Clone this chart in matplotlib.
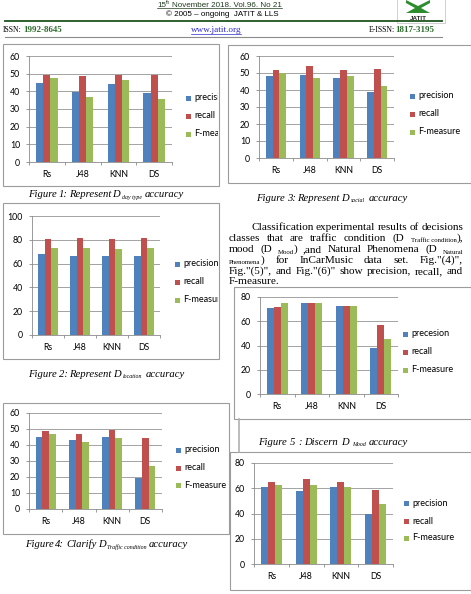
import numpy as np
import matplotlib
matplotlib.use('Agg')
import matplotlib.pyplot as plt
import matplotlib.transforms as mtransforms
from matplotlib.patches import Rectangle, Polygon
from matplotlib.lines import Line2D

# ---------------- data ----------------
categories = ['Rs', 'J48', 'KNN', 'DS']
legend_labels = ['precision', 'recall', 'F-measure']
legend_labels_mood = ['precesion', 'recall', 'F-measure']

day_type_precision = [45.0, 39.4, 44.1, 38.8]
day_type_recall = [49.5, 48.8, 49.2, 49.2]
day_type_fmeasure = [47.3, 36.6, 46.3, 35.8]

location_precision = [68.0, 66.0, 66.0, 66.0]
location_recall = [80.3, 81.2, 80.6, 81.2]
location_fmeasure = [73.3, 72.8, 72.5, 72.8]

social_precision = [48.1, 48.7, 47.2, 38.8]
social_recall = [52.0, 54.0, 52.0, 52.2]
social_fmeasure = [49.9, 47.2, 48.1, 42.1]

traffic_precision = [45.0, 43.3, 45.0, 19.6]
traffic_recall = [49.0, 46.7, 49.2, 44.2]
traffic_fmeasure = [47.1, 42.1, 44.6, 27.1]

mood_precision = [71.0, 75.1, 72.4, 37.7]
mood_recall = [71.9, 75.1, 72.7, 56.8]
mood_fmeasure = [75.1, 75.1, 72.4, 45.4]

natural_precision = [61.0, 58.1, 60.7, 39.8]
natural_recall = [64.6, 67.3, 64.6, 58.8]
natural_fmeasure = [62.8, 62.3, 61.2, 47.8]

# ---------------- styling ----------------
W, H = 471, 594
SANS = 'Lato'
SERIF = 'Liberation Serif'
COLORS = ['#4F81BD', '#C0504D', '#9BBB59']
AXC = '#8a8a8a'
FRAMEC = '#9c9c9c'

plt.rcParams['font.family'] = SANS
fig = plt.figure(figsize=(W / 100, H / 100), dpi=100)
fig.patch.set_facecolor('white')
PX = mtransforms.Affine2D().scale(1.0 / W, -1.0 / H).translate(0, 1) + fig.transFigure
renderer = fig.canvas.get_renderer()


def measure(s, **kw):
    t = fig.text(0, 0, s, **kw)
    w = t.get_window_extent(renderer=renderer).width
    t.remove()
    return w


def fit(s, target, **kw):
    return 10.0 * target / measure(s, size=10, **kw)


def draw_runs(x0, ybase, pieces, width=None, center=None, color='black', space=0.25):
    """pieces: (text, kw, n_spaces_before, dy)"""
    ws = [measure(p[0], **p[1]) for p in pieces]
    nsp = sum(p[2] for i, p in enumerate(pieces) if i > 0)
    if width is None:
        gap = space * pieces[0][1]['size'] * 100 / 72
    else:
        gap = (width - sum(ws)) / max(nsp, 1)
    total = sum(ws) + gap * nsp
    if center is not None:
        x0 = center - total / 2
    x = x0
    for i, (p, w) in enumerate(zip(pieces, ws)):
        if i > 0:
            x += gap * p[2]
        kw = dict(p[1])
        kw.setdefault('color', color)
        fig.text(x, ybase + p[3], p[0], transform=PX, va='baseline', ha='left', **kw)
        x += w
    return x0, x


def words(s, kw, first=1):
    return [(w, kw, (first if i == 0 else 1), 0) for i, w in enumerate(s.split())]


def frame(x0, y0, x1, y1, color=FRAMEC, lw=0.8):
    r = Rectangle((x0, y0), x1 - x0, y1 - y0, transform=PX, fill=False,
                  edgecolor=color, linewidth=lw)
    fig.add_artist(r)


def hline(x0, x1, y, color, lw):
    fig.add_artist(Line2D([x0, x1], [y, y], transform=PX, color=color, linewidth=lw))


def vline(x, y0, y1, color, lw):
    fig.add_artist(Line2D([x, x], [y0, y1], transform=PX, color=color, linewidth=lw))


tick_fs = 6.3
leg_fs = fit('F-measure', 42, family=SANS)


def bar_chart(series, labels, yticks, axbox, fbox, leg):
    x0, y0, x1, y1 = axbox
    ax = fig.add_axes([x0 / W, 1 - y1 / H, (x1 - x0) / W, (y1 - y0) / H])
    ax.set_facecolor('none')
    x = np.arange(len(categories))
    bw = 0.2
    for i, (vals, c) in enumerate(zip(series, COLORS)):
        ax.bar(x + (i - 1) * bw, vals, bw, color=c, linewidth=0, zorder=3)
    ax.set_xlim(-0.5, len(categories) - 0.5)
    ax.set_ylim(yticks[0], yticks[-1])
    ax.set_yticks(yticks)
    ax.set_yticklabels([str(v) for v in yticks])
    ax.set_xticks(x)
    ax.set_xticklabels(categories)
    ax.set_xticks(np.arange(len(categories) + 1) - 0.5, minor=True)
    ax.tick_params(axis='x', which='major', length=0, pad=5.5, labelsize=tick_fs)
    ax.tick_params(axis='x', which='minor', length=2.5, width=0.6, color=AXC)
    ax.tick_params(axis='y', length=2.5, width=0.6, color=AXC, pad=4, labelsize=tick_fs)
    ax.grid(axis='y', color=AXC, linewidth=0.55, zorder=0)
    for s in ['top', 'right']:
        ax.spines[s].set_visible(False)
    for s in ['left', 'bottom']:
        ax.spines[s].set_color(AXC)
        ax.spines[s].set_linewidth(0.6)
    frame(*fbox)
    # legend inside an overlay axes that clips to the chart frame
    fx0, fy0, fx1, fy1 = fbox
    fx1c = min(fx1 - 1, W)
    ov = fig.add_axes([fx0 / W, 1 - fy1 / H, (fx1c - fx0) / W, (fy1 - fy0) / H])
    ov.set_axis_off()
    ov.set_facecolor('none')
    ov.set_zorder(5)
    mx, tx, ys = leg
    for lab, c, yy in zip(labels, COLORS, ys):
        ov.add_patch(Rectangle((mx - 2.5, yy - 2.5), 5, 5, transform=PX,
                               facecolor=c, edgecolor='none', clip_on=False))
        ov.text(tx, yy, lab, transform=PX, va='center', ha='left', size=leg_fs,
                family=SANS, color='black', clip_on=True)
    return ax


charts = [
    ([day_type_precision, day_type_recall, day_type_fmeasure], legend_labels,
     list(range(0, 61, 10)), (29, 56, 172, 162), (3, 44, 219, 186), (188, 194, [98, 116, 134])),
    ([location_precision, location_recall, location_fmeasure], legend_labels,
     list(range(0, 101, 20)), (32, 216, 160, 335), (3, 203, 219, 359), (177, 183, [264, 282, 300])),
    ([social_precision, social_recall, social_fmeasure], legend_labels,
     list(range(0, 61, 10)), (259, 56, 394, 158), (228, 45, 480, 183), (412, 418, [96, 114, 132])),
    ([traffic_precision, traffic_recall, traffic_fmeasure], legend_labels,
     list(range(0, 61, 10)), (29, 413, 162, 509), (3, 403, 229, 534), (178, 184, [450, 468, 485])),
    ([mood_precision, mood_recall, mood_fmeasure], legend_labels_mood,
     list(range(0, 81, 20)), (260, 297, 398, 394), (234, 287, 480, 419), (405, 411, [334, 352, 370])),
    ([natural_precision, natural_recall, natural_fmeasure], legend_labels,
     list(range(0, 81, 20)), (254, 463, 393, 564), (230, 452, 480, 590), (406, 412, [503, 521, 538])),
]
for ch in charts:
    bar_chart(*ch)

vline(239, 419, 452, '#b0b0b0', 1.2)

# ---------------- header ----------------
hs = fit('© 2005 – ongoing  JATIT & LLS', 112, family='Liberation Sans')
hk = dict(family='Liberation Sans', size=hs)
hsup = dict(family='Liberation Sans', size=hs * 0.6)
a, b = draw_runs(0, 7, [('15', hk, 0, 0), ('th', hsup, 0, -3),
                        ('November 2018. Vol.96. No 21', hk, 1, 0)],
                 center=219.5, color='#1e3b1e', space=0.28)
hline(a, b, 8.3, '#1e3b1e', 0.5)
fig.text(222, 16, '© 2005 – ongoing  JATIT & LLS', transform=PX, ha='center',
         va='baseline', **hk, color='black')
hline(5, 442, 21, '#2f5f2f', 1.4)
hline(5, 442, 36.5, '#8a8a8a', 0.8)
# logo
frame(397, -2, 445, 23, color='#c8c8c8', lw=0.6)
fig.add_artist(Polygon([(406, 0), (418, 6), (430, 0), (430, 3), (421, 8), (430, 13),
                        (406, 13), (415, 8), (406, 3)], transform=PX,
                       facecolor='#2e8b2e', edgecolor='none'))
fig.text(418, 19.5, 'JATIT', transform=PX, ha='center', va='baseline',
         family='Liberation Sans', weight='bold', size=4.5, color='#222222')

isk = dict(family=SERIF, size=fit('ISSN:', 19, family=SERIF))
isg = dict(family=SERIF, size=fit('1992-8645', 39, family=SERIF, weight='bold'),
           weight='bold', color='#2e6b2e')
draw_runs(3, 32.5, [('ISSN:', isk, 0, 0), ('1992-8645', isg, 1, 0)])
a, b = draw_runs(0, 32.5, [('www.jatit.org', dict(family=SERIF, size=fit('www.jatit.org', 50, family=SERIF),
                                                  color='#2a2acc'), 0, 0)],
                 center=216)
hline(a, b, 34, '#2a2acc', 0.5)
draw_runs(369, 32.5, [('E-ISSN:', isk, 0, 0), ('1817-3195', isg, 1, 0)], width=65)

# ---------------- captions ----------------
cap_fs = 0.96 * fit('Figure 1: Represent D', 99, family=SERIF, style='italic')
ck = dict(family=SERIF, style='italic', size=cap_fs)
cs = dict(family=SERIF, style='italic', size=cap_fs * 0.55)


def caption(x0, x1, yc, pre, sub, post, gap_after=2):
    pieces = words(pre, ck, 0) + [(sub, cs, 1, 1.5), (post, ck, gap_after, 0)]
    draw_runs(x0, yc + 3, pieces, width=x1 - x0)


caption(28, 184, 194, 'Figure 1: Represent D', 'day type', 'accuracy', 2)
caption(28, 185, 374, 'Figure 2: Represent D', 'location', 'accuracy', 2)
caption(256, 408, 198, 'Figure 3: Represent D', 'social', 'accuracy', 2)
caption(25, 188, 544, 'Figure 4: Clarify D', 'Traffic condition', 'accuracy', 1)
caption(258, 408, 442, 'Figure 5 : Discern D', 'Mood', 'accuracy', 1)

# ---------------- paragraph ----------------
para_fs = fit('Fig."(5)", and Fig."(6)" show precision, recall, and', 228, family=SERIF)
pk = dict(family=SERIF, size=para_fs)
ps = dict(family=SERIF, size=para_fs * 0.6)
base = [230, 241, 252, 263, 274, 284]
draw_runs(251, base[0], words('Classification experimental results of decisions', pk, 0), width=212)
draw_runs(229, base[1], words('classes that are traffic condition (D', pk, 0)
          + [('Traffic condition', ps, 1, 1.5), ('),', pk, 0, 0)], width=234)
draw_runs(229, base[2], words('mood (D', pk, 0) + [('Mood', ps, 1, 1.5), (')', pk, 0, 0)]
          + words(',and Natural Phenomena (D', pk, 1) + [('Natural', ps, 1, 1.5)], width=234)
draw_runs(229, base[3], [('Phenomena', ps, 0, 1.5), (')', pk, 0, 0)]
          + words('for InCarMusic data set. Fig."(4)",', pk, 1), width=234)
draw_runs(229, base[4], words('Fig."(5)", and Fig."(6)" show precision, recall, and', pk, 0), width=234)
draw_runs(229, base[5], words('F-measure.', pk, 0))

fig.savefig('out.png', dpi=100, facecolor='white')
